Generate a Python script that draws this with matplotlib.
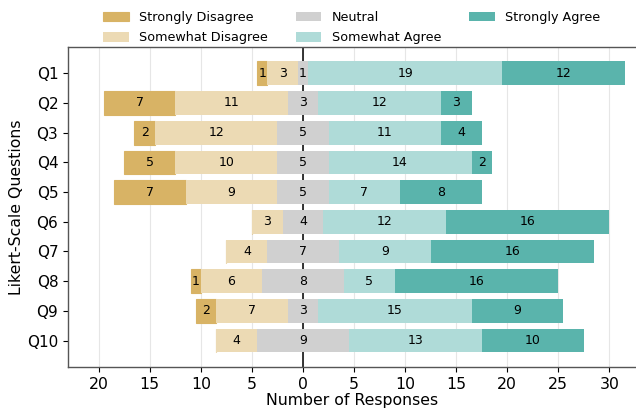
import matplotlib
matplotlib.use("Agg")
import matplotlib.pyplot as plt
import numpy as np
from matplotlib.ticker import FuncFormatter, MultipleLocator

questions = ["Q1", "Q2", "Q3", "Q4", "Q5", "Q6", "Q7", "Q8", "Q9", "Q10"]
strongly_disagree = [1, 7, 2, 5, 7, 0, 0, 1, 2, 0]
somewhat_disagree = [3, 11, 12, 10, 9, 3, 4, 6, 7, 4]
neutral = [1, 3, 5, 5, 5, 4, 7, 8, 3, 9]
somewhat_agree = [19, 12, 11, 14, 7, 12, 9, 5, 15, 13]
strongly_agree = [12, 3, 4, 2, 8, 16, 16, 16, 9, 10]

labels = ["Strongly Disagree", "Somewhat Disagree", "Neutral",
          "Somewhat Agree", "Strongly Agree"]
colors = ["#d8b365", "#ecdab4", "#d0d0d0", "#afdbd8", "#5ab4ac"]

data = np.array([strongly_disagree, somewhat_disagree, neutral,
                 somewhat_agree, strongly_agree], dtype=float)

# Left edge of each row so that the neutral block is centred on zero
starts = -(data[0] + data[1] + data[2] / 2)

fig = plt.figure(figsize=(6.36, 4.11), dpi=100)
ax = fig.add_axes([0.107, 0.107, 0.893, 0.779])

y = np.arange(len(questions))
left = starts.copy()
for i, (vals, lab, col) in enumerate(zip(data, labels, colors)):
    lw = 0.8 if i == 0 else 0
    ax.barh(y, vals, left=left, height=0.8, color=col, label=lab,
            edgecolor=col, linewidth=lw, zorder=2)
    for yi, v, l in zip(y, vals, left):
        if v > 0:
            ax.text(l + v / 2, yi, f"{int(v)}", ha="center", va="center",
                    fontsize=9, color="black", zorder=3)
    left = left + vals

# zero reference line sits behind the bars
ax.axvline(0, color="black", linewidth=1.1, zorder=1.5)

ax.set_yticks(y)
ax.set_yticklabels(questions, fontsize=11)
ax.invert_yaxis()
ax.set_xlim(-23, 32.6)
ax.xaxis.set_major_locator(MultipleLocator(5))
ax.xaxis.set_major_formatter(FuncFormatter(lambda v, p: f"{abs(int(round(v)))}"))
ax.tick_params(axis="x", labelsize=11.3)
ax.grid(axis="x", color="#e6e6e6", linewidth=0.8, zorder=0)
ax.set_axisbelow(True)

ax.set_xlabel("Number of Responses", fontsize=11.3, labelpad=1)
ax.set_ylabel("Likert-Scale Questions", fontsize=11.3, labelpad=2)

for side in ["left", "bottom", "top"]:
    ax.spines[side].set_color("#555555")
    ax.spines[side].set_linewidth(1.0)
ax.spines["right"].set_visible(False)

fig.legend(loc="upper center", bbox_to_anchor=(0.553, 0.992), ncol=3,
           frameon=False, fontsize=9.2, handleheight=0.8,
           labelspacing=0.58, columnspacing=2.2, borderaxespad=0.2)

fig.savefig("out.png", dpi=100)
